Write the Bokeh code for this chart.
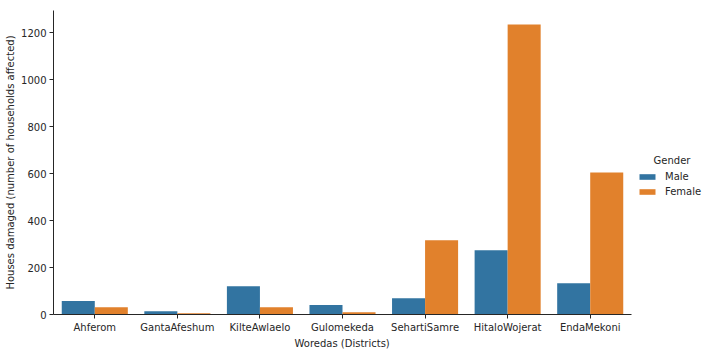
from bokeh.plotting import figure
from bokeh.models import ColumnDataSource, Range1d, Legend, LegendItem, FixedTicker, Title, Label
from bokeh.transform import dodge
from bokeh.embed import file_html
from bokeh.resources import INLINE

districts = ["Ahferom", "GantaAfeshum", "KilteAwlaelo", "Gulomekeda",
             "SehartiSamre", "HitaloWojerat", "EndaMekoni"]
male = [57, 14, 120, 40, 69, 274, 133]
female = [31, 5, 31, 10, 316, 1235, 605]
genders = ["Male", "Female"]
y_ticks = [0, 200, 400, 600, 800, 1000, 1200]

colors = {"Male": "#3274a1", "Female": "#e1812c"}
pos = list(range(len(districts)))
src = ColumnDataSource(dict(pos=pos, district=districts, Male=male, Female=female))

# frame spans the plot area plus the legend column on the right
n = len(districts)
unit_px = 578 / n
x_end = -0.5 + 659 / unit_px

p = figure(width=712, height=352,
           x_range=Range1d(-0.5, x_end),
           y_range=Range1d(0, 1295),
           output_backend="svg", toolbar_location=None,
           min_border_left=53, min_border_right=0,
           min_border_top=10, min_border_bottom=38)

r_m = p.vbar(x=dodge("pos", -0.2), top="Male", width=0.4,
             source=src, fill_color=colors["Male"], line_color=None)
r_f = p.vbar(x=dodge("pos", 0.2), top="Female", width=0.4,
             source=src, fill_color=colors["Female"], line_color=None)

p.outline_line_color = None
p.grid.visible = False
txt = "#262626"
for ax in (p.xaxis[0], p.yaxis[0]):
    ax.axis_line_color = txt
    ax.axis_line_width = 1
    ax.major_tick_line_color = txt
    ax.major_tick_out = 4
    ax.major_tick_in = 0
    ax.minor_tick_line_color = None
    ax.major_label_text_font = "DejaVu Sans"
    ax.major_label_text_font_size = "10px"
    ax.major_label_text_color = txt
    ax.axis_label_text_font = "DejaVu Sans"
    ax.axis_label_text_font_size = "10px"
    ax.axis_label_text_font_style = "normal"
    ax.axis_label_text_color = txt
    ax.major_label_standoff = 3

p.yaxis[0].ticker = FixedTicker(ticks=y_ticks)
p.yaxis[0].axis_label = "Houses damaged (number of households affected)"
p.yaxis[0].axis_label_standoff = 2
p.xaxis[0].ticker = FixedTicker(ticks=pos)
p.xaxis[0].major_label_overrides = {i: d for i, d in zip(pos, districts)}
p.xaxis[0].bounds = (-0.5, n - 0.5)

xlab = Title(text="Woredas (Districts)", align="left", offset=241,
             text_font="DejaVu Sans", text_font_size="10px",
             text_font_style="normal", text_color=txt, standoff=0)
p.add_layout(xlab, "below")

legend = Legend(items=[LegendItem(label=genders[0], renderers=[r_m]),
                       LegendItem(label=genders[1], renderers=[r_f])],
                location=(584, 117),
                border_line_color=None, background_fill_alpha=0,
                glyph_width=20, glyph_height=7, label_height=10, spacing=4,
                label_text_font="DejaVu Sans", label_text_font_size="10px",
                label_text_color=txt, label_standoff=8,
                padding=4, margin=0)
p.add_layout(legend, "center")

gtitle = Label(x=(n - 0.5 + x_end) / 2, y=655, text="Gender",
               text_align="center", text_baseline="middle",
               text_font="DejaVu Sans", text_font_size="10px", text_color=txt)
p.add_layout(gtitle)

open("out.html", "w").write(file_html(p, INLINE))
